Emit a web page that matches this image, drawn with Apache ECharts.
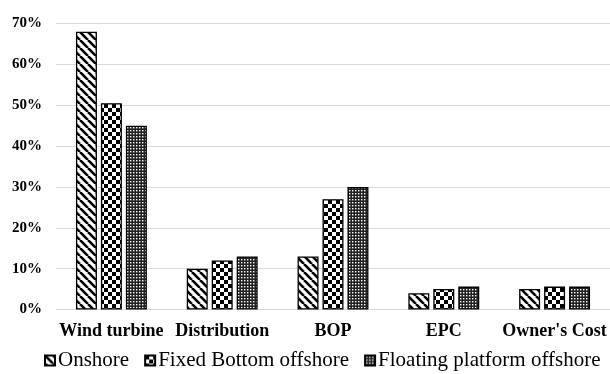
<!DOCTYPE html>
<html>
<head>
<meta charset="utf-8">
<script src="https://cdn.jsdelivr.net/npm/echarts@6/dist/echarts.min.js"></script>
<style>
  html, body { margin: 0; padding: 0; background: #fff; }
  #chart { width: 610px; height: 374px; }
</style>
</head>
<body>
<div id="chart"></div>
<script>
// Cost share by component (%)
const categories = ['Wind turbine', 'Distribution', 'BOP', 'EPC', "Owner's Cost"];
const onshore = [68, 10, 13, 4, 5];
const fixedBottom = [50.5, 12, 27, 5, 5.6];
const floatingPlatform = [45, 13, 30, 5.6, 5.6];
const yTicks = [0, 10, 20, 30, 40, 50, 60, 70];

// Monochrome fill patterns
function stripePattern() {
  const c = document.createElement('canvas');
  c.width = 8; c.height = 8;
  const g = c.getContext('2d');
  g.fillStyle = '#fff'; g.fillRect(0, 0, 8, 8);
  g.strokeStyle = '#000'; g.lineWidth = 2.6;
  for (const off of [-8, 0, 8]) {
    g.beginPath(); g.moveTo(off, 0); g.lineTo(off + 8, 8); g.stroke();
  }
  return c;
}
function checkerPattern(cell) {
  const c = document.createElement('canvas');
  c.width = cell * 2; c.height = cell * 2;
  const g = c.getContext('2d');
  g.fillStyle = '#fff'; g.fillRect(0, 0, cell * 2, cell * 2);
  g.fillStyle = '#000';
  g.fillRect(0, 0, cell, cell);
  g.fillRect(cell, cell, cell, cell);
  return c;
}
function finePattern() {
  const c = document.createElement('canvas');
  c.width = 3; c.height = 3;
  const g = c.getContext('2d');
  g.fillStyle = '#222'; g.fillRect(0, 0, 3, 3);
  g.fillStyle = '#fff'; g.fillRect(1, 1, 1.4, 1.4);
  return c;
}

const fills = [
  { image: stripePattern(), repeat: 'repeat' },
  { image: checkerPattern(4), repeat: 'repeat' },
  { image: finePattern(), repeat: 'repeat' }
];

const serif = '"Liberation Serif", "DejaVu Serif", serif';

function barSeries(name, data, fill) {
  return {
    name: name,
    type: 'bar',
    data: data,
    barGap: '19%',
    barCategoryGap: '36%',
    itemStyle: { color: fill, borderColor: '#000', borderWidth: 1.3 }
  };
}

const chart = echarts.init(document.getElementById('chart'), null, { renderer: 'canvas' });
chart.setOption({
  animation: false,
  backgroundColor: '#fff',
  grid: { left: 56, top: 23.5, width: 558, height: 286, containLabel: false },
  legend: {
    left: 44,
    top: 350,
    width: 566,
    padding: 0,
    itemWidth: 10,
    itemHeight: 10,
    itemGap: 15,
    icon: 'rect',
    textStyle: { fontFamily: serif, fontSize: 21, color: '#000', padding: [0, 0, 0, -2] },
    data: ['Onshore', 'Fixed Bottom offshore', 'Floating platform offshore']
  },
  xAxis: {
    type: 'category',
    data: categories,
    axisLine: { lineStyle: { color: '#d9d9d9', width: 1 } },
    axisTick: { show: false },
    axisLabel: {
      interval: 0,
      hideOverlap: false,
      fontFamily: serif, fontWeight: 'bold', fontSize: 18, color: '#000', margin: 13
    }
  },
  yAxis: {
    type: 'value',
    min: yTicks[0],
    max: yTicks[yTicks.length - 1],
    interval: 10,
    axisLine: { show: false },
    axisTick: { show: false },
    splitLine: { lineStyle: { color: '#d9d9d9', width: 1 } },
    axisLabel: { formatter: '{value}%', fontFamily: serif, fontWeight: 'bold', fontSize: 15, color: '#000', margin: 14 }
  },
  series: [
    barSeries('Onshore', onshore, fills[0]),
    barSeries('Fixed Bottom offshore', fixedBottom, fills[1]),
    barSeries('Floating platform offshore', floatingPlatform, fills[2])
  ]
});
</script>
</body>
</html>
